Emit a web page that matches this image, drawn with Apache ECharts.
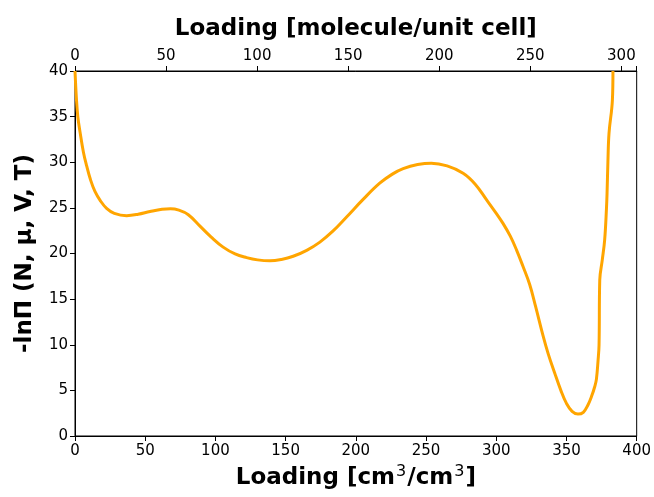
<!DOCTYPE html>
<html>
<head>
<meta charset="utf-8">
<script src="https://cdn.jsdelivr.net/npm/echarts@6/dist/echarts.min.js"></script>
<style>
  html, body { margin: 0; padding: 0; background: #fff; }
  #chart { width: 654px; height: 497px; }
</style>
</head>
<body>
<div id="chart"></div>
<script>
// Loading in cm3/cm3 (bottom axis)
const loading = [
  0, 1, 2, 3.6, 6, 8.3, 11, 14.2, 18, 22.5, 28, 36.8, 45, 53.4, 62, 68, 74,
  80.7, 89, 97, 105.5, 114, 122.2, 130, 138.8, 147, 155.4, 165, 174.4, 184,
  193.4, 205, 217, 226, 233.7, 244, 253.8, 265, 276.4, 285, 293, 300, 304.8,
  310, 314.4, 319, 323.8, 328, 333.3, 337, 341.6, 346, 349.9, 354, 358.2,
  362, 365.3, 368, 370.1, 371.3, 372.5, 373.2, 373.7, 375.5, 377.2, 378.5,
  378.9, 379.5, 380.3, 382.7, 383.1
];

// -ln Pi values
const lnPi = [
  40, 37, 35, 33.3, 31.1, 29.6, 28.1, 26.8, 25.8, 24.95, 24.4, 24.15, 24.3, 24.6,
  24.85, 24.9, 24.75, 24.25, 23.0, 21.8, 20.7, 19.95, 19.55, 19.3, 19.2, 19.35,
  19.7, 20.35, 21.25, 22.5, 24.0, 25.9, 27.7, 28.7, 29.3, 29.75, 29.9, 29.6,
  28.8, 27.6, 25.9, 24.4, 23.3, 21.9, 20.4, 18.6, 16.6, 14.2, 11.0, 9.0,
  6.9, 5, 3.6, 2.7, 2.4, 2.6, 3.4, 4.4, 5.4, 6.2, 8.3, 10, 17.1, 19.3, 21.5,
  25, 26.6, 30, 33.2, 36.8, 40
];

// cm3/cm3 per molecule per unit cell
const perMolecule = 1.297;
const bottomMax = 400;
const topMax = bottomMax / perMolecule;

const font = 'DejaVu Sans';
const tickFont = { fontFamily: font, fontSize: 15, color: '#000' };
const titleFont = { fontFamily: font, fontSize: 23, fontWeight: 'bold', color: '#000' };

const chart = echarts.init(document.getElementById('chart'));

chart.setOption({
  animation: false,
  backgroundColor: '#fff',
  textStyle: { fontFamily: font },
  grid: {
    left: 75, right: 17, top: 71, bottom: 61,
    show: true, borderColor: '#000', borderWidth: 1
  },
  xAxis: [
    {
      type: 'value', position: 'bottom',
      min: 0, max: bottomMax, interval: 50,
      name: '{b|Loading [cm}{s|3}{b|/cm}{s|3}{b|]}',
      nameLocation: 'middle', nameGap: 25,
      nameTextStyle: {
        rich: {
          b: Object.assign({}, titleFont, { lineHeight: 26, verticalAlign: 'bottom' }),
          s: { fontFamily: font, fontSize: 16, color: '#000', lineHeight: 26, verticalAlign: 'top', padding: [0, 1, 9, 1] }
        }
      },
      axisLine: { onZero: false, lineStyle: { color: '#000', width: 1 } },
      axisTick: { inside: false, length: 5, lineStyle: { color: '#000' } },
      axisLabel: Object.assign({}, tickFont, { margin: 8 }),
      splitLine: { show: false }
    },
    {
      type: 'value', position: 'top',
      min: 0, max: topMax, interval: 50,
      name: 'Loading [molecule/unit cell]',
      nameLocation: 'middle', nameGap: 30,
      nameTextStyle: titleFont,
      axisLine: { onZero: false, lineStyle: { color: '#000', width: 1 } },
      axisTick: { inside: false, length: 5, lineStyle: { color: '#000' } },
      axisLabel: Object.assign({}, tickFont, {
        margin: 7,
        formatter: v => (v % 50 === 0 ? String(v) : '')
      }),
      splitLine: { show: false }
    }
  ],
  yAxis: {
    type: 'value', min: 0, max: 40, interval: 5,
    name: '-lnΠ (N, μ, V, T)',
    nameLocation: 'middle', nameGap: 38, nameRotate: 90,
    nameTextStyle: titleFont,
    axisLine: { show: true, lineStyle: { color: '#000', width: 1 } },
    axisTick: { show: true, inside: false, length: 5, lineStyle: { color: '#000' } },
    axisLabel: Object.assign({}, tickFont, { margin: 7 }),
    splitLine: { show: false }
  },
  series: [{
    type: 'line',
    xAxisIndex: 0,
    data: loading.map((x, i) => [x, lnPi[i]]),
    showSymbol: false,
    smooth: 0.4,
    lineStyle: { color: '#FFA500', width: 3 },
    clip: true
  }]
});
</script>
</body>
</html>
